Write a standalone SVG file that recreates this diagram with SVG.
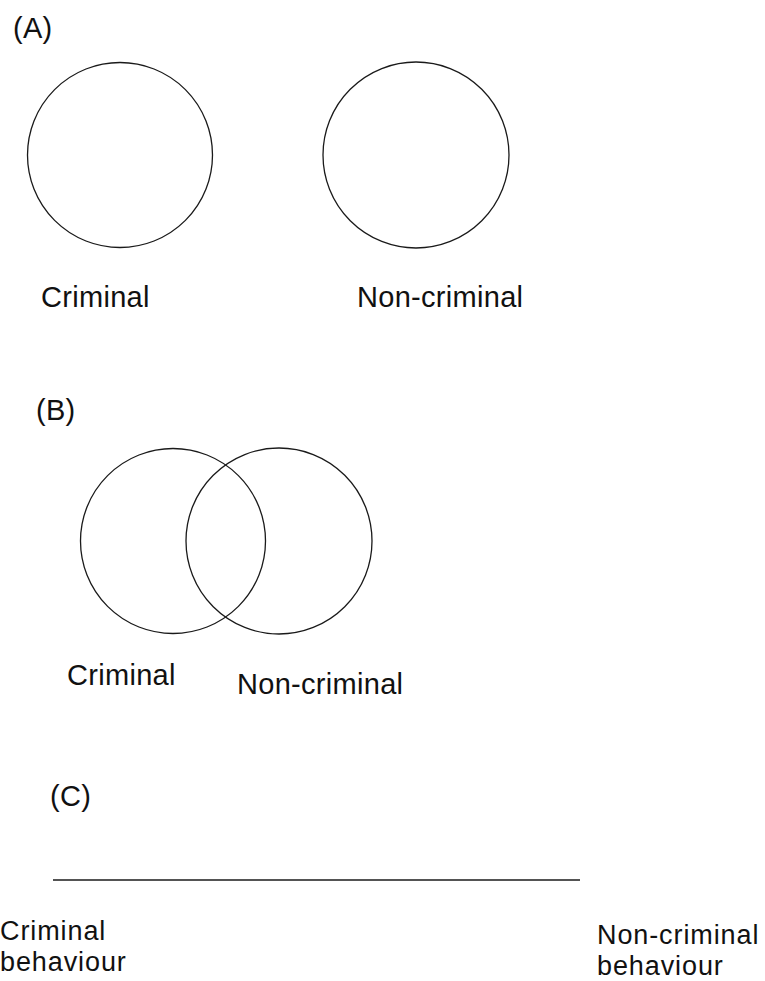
<svg xmlns="http://www.w3.org/2000/svg" width="765" height="981" viewBox="0 0 765 981">
<style>
.c{fill:none;stroke:#1a1a1a;stroke-width:1.3}
.t{font-family:"Liberation Sans",Arial,sans-serif;font-size:29px;fill:#111;letter-spacing:0.3px}
.s{font-size:27px;letter-spacing:0.9px}
</style>
<rect width="765" height="981" fill="#fff"/>
<g id="panelA">
<text class="t" x="13" y="38">(A)</text>
<g id="A-criminal"><circle class="c" cx="120" cy="155" r="92.5"/><text class="t" x="41" y="307">Criminal</text></g>
<g id="A-noncriminal"><circle class="c" cx="416" cy="155" r="93"/><text class="t" x="357" y="307">Non-criminal</text></g>
</g>
<g id="panelB">
<text class="t" x="36" y="420">(B)</text>
<g id="B-criminal"><circle class="c" cx="173" cy="541" r="92.5"/><text class="t" x="67" y="685">Criminal</text></g>
<g id="B-noncriminal"><circle class="c" cx="279" cy="541" r="93"/><text class="t" x="237" y="694">Non-criminal</text></g>
</g>
<g id="panelC">
<text class="t" x="50" y="806">(C)</text>
<g id="connectors"><line x1="53" y1="880" x2="580" y2="880" stroke="#1a1a1a" stroke-width="1.3"/></g>
<g id="C-criminal"><text class="t s" x="0" y="940">Criminal</text><text class="t s" x="0" y="971">behaviour</text></g>
<g id="C-noncriminal"><text class="t s" x="597" y="944">Non-criminal</text><text class="t s" x="597" y="975">behaviour</text></g>
</g>
</svg>
